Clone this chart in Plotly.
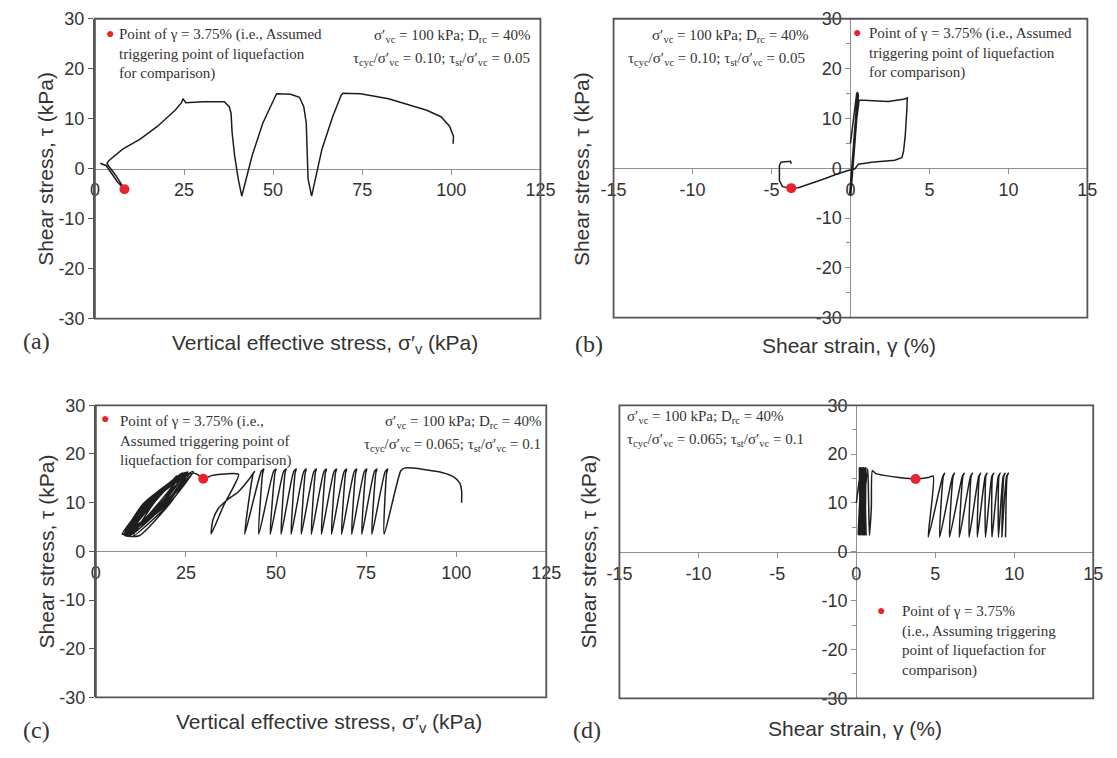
import plotly.graph_objects as go

W, H = 1117, 758

# ---------------- (a) stress path, tau_cyc/sv = 0.10, tau_st/sv = 0.05 ----------------
a_sv = [100.5, 100.6, 99.5, 97.1, 93.1, 87.3, 82.4, 74.5, 69.6, 69.1, 66.7, 63.7, 61.8, 60.8,
        59.8, 59.6, 59.3, 58.6, 57.4, 54.9, 51.0, 50.5, 47.1, 44.1, 42.2, 41.2,
        40.2, 39.2, 38.5, 38.2, 37.7, 36.3, 30.4, 25.5, 24.7, 24.3, 22.5, 17.6, 12.7, 7.8, 3.9, 3.4,
        5.9, 8.3, 6.3, 3.9, 3.2, 1.5]
a_tau = [5.0, 6.5, 8.5, 10.4, 11.7, 13.0, 14.0, 15.0, 15.1, 14.7, 10.4, 3.9, -2.0, -5.5,
         -2.0, 3.3, 9.1, 12.4, 14.3, 14.9, 15.0, 14.3, 9.1, 2.6, -2.6, -5.5,
         -2.0, 2.6, 7.2, 11.1, 12.4, 13.4, 13.4, 13.2, 14.0, 13.2, 11.7, 8.5, 5.9, 3.9, 1.6, 1.0,
         -1.4, -4.1, -2.6, -0.1, 0.6, 1.1]
a_trig = (8.3, -4.1)

# ---------------- (b) stress-strain, same test ----------------
b_gam = [0.0, 0.2, 0.4, 0.45, 0.3, 0.1, -0.05, 0.0, 0.15, 0.32, 0.45, 0.5, 0.35, 0.15, 0.02,
         0.08, 0.25, 0.4, 0.55,
         1.3, 2.4, 3.45, 3.6, 3.57, 3.47, 3.36, 3.25, 2.8, 1.34, 0.5, 0.28,
         -0.15, -0.8, -1.64, -2.5, -3.3, -3.75, -4.3, -4.5, -4.5, -4.4, -3.8, -3.75]
b_tau = [5.0, 10.0, 15.2, 14.5, 8.0, 0.0, -5.3, -4.5, 2.0, 10.0, 15.3, 14.5, 8.0, 0.0, -5.4,
         -4.0, 4.0, 10.0, 13.7,
         13.6, 13.4, 13.9, 14.1, 11.8, 6.6, 3.4, 2.1, 1.6, 1.2, 0.8, -0.1,
         -0.45, -1.1, -2.1, -3.0, -3.9, -4.0, -3.7, -2.5, 0.5, 1.2, 1.4, 0.9]
b_trig = (-3.75, -4.0)

# ---------------- (c) stress path, tau_cyc/sv = 0.065, tau_st/sv = 0.1 ----------------
c_hump_sv = [101.5, 101.5, 101.0, 99.3, 96.0, 92.0, 88.0, 85.6, 84.6]
c_hump_tau = [10.0, 12.5, 14.0, 15.3, 16.2, 16.7, 17.1, 17.1, 16.5]
c_bot_sv = [80.0, 76.6, 73.8, 71.0, 68.2, 65.4, 62.6, 59.8, 57.0, 54.2, 51.4, 48.4, 45.2, 41.3]
c_top_sv = [81.0, 78.0, 75.2, 72.4, 69.6, 66.8, 64.0, 61.2, 58.4, 55.6, 52.8, 50.0, 46.6, 44.0]
c_bot_tau = 3.5
c_top_tau = 16.9
c_tail_sv = [42.5, 39.5, 36.5, 34.0, 32.5, 32.0, 35.5, 39.6, 36.0, 32.3, 29.8]
c_tail_tau = [14.8, 12.2, 10.6, 8.8, 6.5, 3.6, 9.5, 15.8, 15.9, 15.6, 14.9]
c_cl_sv = [28.2, 27.0, 20.2, 12.0, 8.0, 13.8, 25.5, 19.0, 9.5, 7.4, 14.5, 26.0, 18.5, 8.0,
           15.0, 25.0, 17.5, 8.5, 15.5, 24.5, 18.0, 9.0, 14.5, 25.5, 19.5, 8.0, 14.0, 26.5,
           18.8, 7.3, 13.8, 24.0, 17.0, 9.5, 15.2, 25.2, 19.0, 8.2, 14.2, 27.0, 20.0, 10.5,
           16.0, 23.5, 17.8, 7.8, 13.2, 24.8, 18.2, 8.8, 15.8, 22.5]
c_cl_tau = [15.8, 16.1, 9.5, 3.2, 3.3, 9.8, 16.3, 9.5, 3.3, 3.6, 9.8, 16.0, 9.5, 3.3,
            9.8, 16.2, 9.5, 3.4, 9.8, 16.0, 9.5, 3.3, 9.8, 16.3, 9.5, 3.3, 9.8, 16.0,
            9.5, 3.5, 9.8, 16.1, 9.5, 3.4, 9.8, 16.2, 9.5, 3.3, 9.8, 16.4, 9.5, 3.2,
            9.8, 15.9, 9.5, 3.4, 9.8, 16.2, 9.5, 3.3, 9.8, 15.6]
c_trig = (29.8, 14.9)

# ---------------- (d) stress-strain, same test ----------------
d_blk_top = [0.30, 0.45, 0.55, 0.62, 0.60, 0.50, 0.40, 0.25, 0.18, 0.35, 0.55, 0.62,
             0.48, 0.28, 0.20, 0.42, 0.58]
d_blk_bot = [0.12, 0.20, 0.30, 0.42, 0.55, 0.62, 0.58, 0.45, 0.30, 0.15, 0.22, 0.40,
             0.60, 0.50, 0.35, 0.18, 0.28, 0.52]
d_mid_gam = [0.72, 0.78, 0.83, 0.95, 1.02, 1.25, 1.66, 2.7, 3.75, 4.55, 4.87]
d_mid_tau = [17.0, 10.0, 3.4, 9.0, 16.6, 16.0, 15.7, 15.2, 14.9, 15.2, 15.5]
d_top = [5.59, 6.21, 6.83, 7.35, 7.87, 8.28, 8.70, 9.11, 9.42, 9.63]
d_bot = [4.55, 5.28, 5.90, 6.52, 7.14, 7.66, 8.18, 8.59, 9.00, 9.21, 9.45]
d_top_tau = 16.1
d_bot_tau = 3.0
d_trig = (3.75, 14.9)

# tick labels (plain hyphen-minus as printed)
sv_ticks = [0, 25, 50, 75, 100, 125]
gam_ticks = [-15, -10, -5, 0, 5, 10, 15]
tau_ticks = [-30, -20, -10, 0, 10, 20, 30]

# ---- assemble the paths ----
c_x, c_y = list(c_hump_sv), list(c_hump_tau)
for i, b in enumerate(c_bot_sv):
    c_x.append(b); c_y.append(c_bot_tau)
    if i + 1 < len(c_bot_sv):
        t = c_top_sv[i]
        # rounded cap over each peak
        c_x += [t - 0.3, t, t - 0.7]; c_y += [c_top_tau - 0.8, c_top_tau, c_top_tau - 0.5]
t = c_top_sv[-1]
c_x += [t - 0.4, t]; c_y += [15.8, 16.4]
c_x += c_tail_sv + c_cl_sv
c_y += c_tail_tau + c_cl_tau

d_x, d_y = [0.0], [10.0]
for i, t in enumerate(d_blk_top):
    d_x += [t, d_blk_bot[i]]; d_y += [17.2, 3.5]
d_x += d_mid_gam; d_y += d_mid_tau
for i, b in enumerate(d_bot):
    d_x.append(b); d_y.append(d_bot_tau)
    if i < len(d_top):
        t = d_top[i]
        d_x += [t - 0.12, t, t - 0.08]; d_y += [d_top_tau - 0.7, d_top_tau, d_top_tau - 0.6]

# ---- panel geometry (page pixels) ----
boxes = {
    "a": (84, 541, 9, 317),
    "b": (616, 1102, 9, 316),
    "c": (85, 547, 406, 706),
    "d": (622, 1108, 406, 707),
}


def fx(p):
    return p / W


def fy(p):
    return 1 - p / H


CURVE = "#1e1e1e"
RED = "#e8232b"
BORDER = "#555555"
ZERO = "#8f8f8f"
SANS = "Liberation Sans, Arial, sans-serif"
SERIF = "Liberation Serif, Times New Roman, serif"
TICKFONT = dict(family=SANS, size=18, color="#333333")

fig = go.Figure()


def add_curve(x, y, xa, ya, shape="linear"):
    fig.add_trace(go.Scatter(x=x, y=y, xaxis=xa, yaxis=ya, mode="lines",
                             line=dict(color=CURVE, width=1.5, shape=shape, smoothing=0.6),
                             showlegend=False, hoverinfo="skip"))


def add_dot(pt, xa, ya):
    fig.add_trace(go.Scatter(x=[pt[0]], y=[pt[1]], xaxis=xa, yaxis=ya, mode="markers",
                             marker=dict(color=RED, size=10), showlegend=False,
                             hoverinfo="skip"))


add_curve(a_sv, a_tau, "x", "y")
add_dot(a_trig, "x", "y")
add_curve(b_gam, b_tau, "x2", "y2")
add_dot(b_trig, "x2", "y2")
add_curve(c_x, c_y, "x3", "y3", "spline")
add_dot(c_trig, "x3", "y3")
add_curve(d_x, d_y, "x4", "y4", "spline")
add_dot(d_trig, "x4", "y4")

layout = dict(width=W, height=H, margin=dict(l=0, r=0, t=0, b=0),
              paper_bgcolor="white", plot_bgcolor="white", showlegend=False)

for k, (name, xr, xt) in enumerate([("a", [0, 125], sv_ticks), ("b", [-15, 15], gam_ticks),
                                     ("c", [0, 125], sv_ticks), ("d", [-15, 15], gam_ticks)]):
    x0, x1, y0, y1 = boxes[name]
    sfx = "" if k == 0 else str(k + 1)
    xdom = [fx(x0), fx(x1)]
    ydom = [fy(y1), fy(y0)]
    ymid = fy((y0 + y1) / 2)
    layout["xaxis" + sfx] = dict(domain=xdom, range=xr, anchor="free", position=ymid,
                                 tickvals=xt, ticktext=[str(v) for v in xt],
                                 ticks="outside", ticklen=5, tickcolor=ZERO,
                                 showline=True, linecolor=ZERO, linewidth=1.2,
                                 layer="below traces",
                                 showgrid=False, zeroline=False, tickfont=TICKFONT,
                                 fixedrange=True)
    yax = dict(domain=ydom, range=[-30, 30], tickvals=tau_ticks,
               ticktext=[str(v) for v in tau_ticks], ticks="outside",
               ticklen=5, showgrid=False, zeroline=False, tickfont=TICKFONT,
               fixedrange=True)
    if name in ("a", "c"):
        yax.update(anchor="x" + sfx, showline=True, linecolor=BORDER, linewidth=1.8,
                   tickcolor=BORDER)
    else:
        yax.update(anchor="free", position=fx((x0 + x1) / 2), showline=True,
                   linecolor=ZERO, linewidth=1.2, tickcolor=ZERO, layer="below traces",
                   minor=dict(dtick=5, ticks="outside", ticklen=4, tickcolor=ZERO))
    layout["yaxis" + sfx] = yax

shapes = []
for name, (x0, x1, y0, y1) in boxes.items():
    shapes.append(dict(type="rect", xref="paper", yref="paper", x0=fx(x0), x1=fx(x1),
                       y0=fy(y1), y1=fy(y0), line=dict(color=BORDER, width=1.8),
                       fillcolor="rgba(0,0,0,0)", layer="above"))
layout["shapes"] = shapes

ann = []


def text(x, y, s, size=15, family=SERIF, xanchor="left", color="#333333", angle=0,
         align="left"):
    ann.append(dict(x=fx(x), y=fy(y), xref="paper", yref="paper", text=s, showarrow=False,
                    xanchor=xanchor, yanchor="middle", align=align, textangle=angle,
                    font=dict(family=family, size=size, color=color)))


def block(x, ytop, s, size=15):
    ann.append(dict(x=fx(x), y=fy(ytop), xref="paper", yref="paper", text=s,
                    showarrow=False, xanchor="left", yanchor="top", align="left",
                    font=dict(family=SERIF, size=size, color="#333333")))


dot = "●"

cond1 = "σ′<sub>vc</sub> = 100 kPa; D<sub>rc</sub> = 40%"
cond_a2 = "τ<sub>cyc</sub>/σ′<sub>vc</sub> = 0.10; τ<sub>st</sub>/σ′<sub>vc</sub> = 0.05"
cond_c2 = "τ<sub>cyc</sub>/σ′<sub>vc</sub> = 0.065; τ<sub>st</sub>/σ′<sub>vc</sub> = 0.1"

# (a)
text(99, 24, dot, size=14, xanchor="center", color=RED)
block(107, 14, "Point of γ = 3.75% (i.e., Assumed<br>triggering point of liquefaction<br>for comparison)")
text(532, 27, cond1, xanchor="right")
text(532, 50, cond_a2, xanchor="right")
# (b)
text(735, 27, cond1, xanchor="center")
text(722, 50, cond_a2, xanchor="center")
text(866, 23, dot, size=14, xanchor="center", color=RED)
block(876, 13, "Point of γ = 3.75% (i.e., Assumed<br>triggering point of liquefaction<br>for comparison)")
# (c)
text(94.6, 420, dot, size=14, xanchor="center", color=RED)
block(108, 412, "Point of γ = 3.75% (i.e.,<br>Assumed triggering point of<br>liquefaction for comparison)")
text(544, 423, cond1, xanchor="right")
text(544, 447, cond_c2, xanchor="right")
# (d)
text(628, 418, cond1)
text(628, 442, cond_c2)
text(890, 617, dot, size=14, xanchor="center", color=RED)
block(910, 607, "Point of γ = 3.75%<br>(i.e., Assuming triggering<br>point of liquefaction for<br>comparison)")

# axis titles
ytitle = "Shear stress, τ (kPa)"
text(34, 163, ytitle, size=21, family=SANS, xanchor="center", angle=-90)
text(583, 163, ytitle, size=21, family=SANS, xanchor="center", angle=-90)
text(34, 556, ytitle, size=21, family=SANS, xanchor="center", angle=-90)
text(590, 556, ytitle, size=21, family=SANS, xanchor="center", angle=-90)
xt_sv = "Vertical effective stress, σ′<sub>v</sub> (kPa)"
xt_g = "Shear strain, γ (%)"
text(320, 343, xt_sv, size=21, family=SANS, xanchor="center")
text(858, 345, xt_g, size=21, family=SANS, xanchor="center")
text(324, 732, xt_sv, size=21, family=SANS, xanchor="center")
text(864, 738, xt_g, size=21, family=SANS, xanchor="center")
# panel labels
text(8, 340, "(a)", size=24)
text(574, 343, "(b)", size=24)
text(8, 740, "(c)", size=24)
text(572, 739, "(d)", size=24)

layout["annotations"] = ann
fig.update_layout(**layout)
fig.write_html("out.html")
